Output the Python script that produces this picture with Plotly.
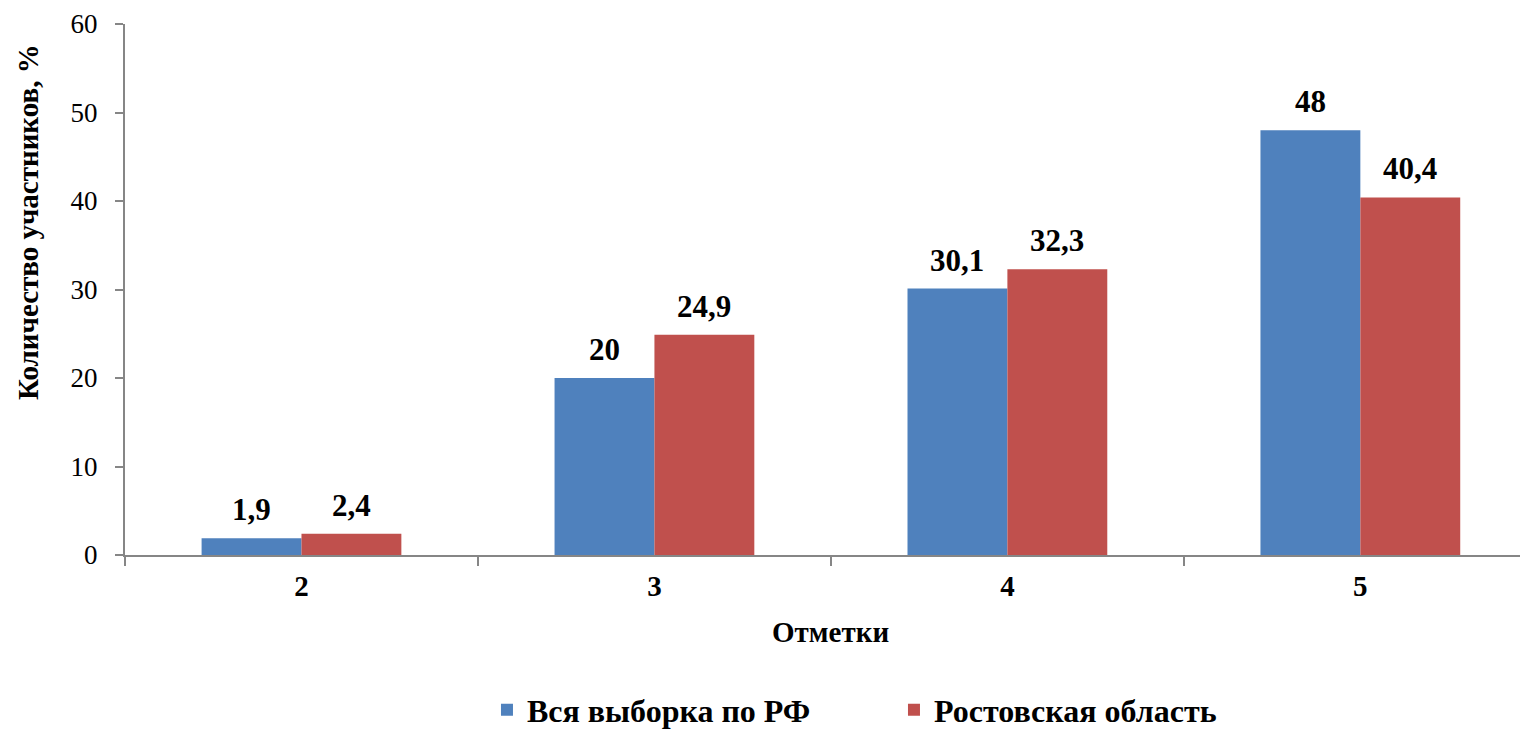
import plotly.graph_objects as go

categories = ["2", "3", "4", "5"]
series_names = ["Вся выборка по РФ", "Ростовская область"]
rf_values = [1.9, 20, 30.1, 48]
rostov_values = [2.4, 24.9, 32.3, 40.4]
y_ticks = [0, 10, 20, 30, 40, 50, 60]
colors = ["#4F81BD", "#C0504D"]

FONT = "'Liberation Serif', 'Times New Roman', serif"
AXIS = "#868686"

def fmt(v):
    return f"{v:g}".replace(".", ",")

fig = go.Figure()
for name, vals, col in zip(series_names, [rf_values, rostov_values], colors):
    fig.add_trace(go.Bar(x=categories, y=vals, name=name, marker=dict(color=col, line=dict(width=0))))

annotations = []
for k, vals in enumerate([rf_values, rostov_values]):
    shift = -50 if k == 0 else 50
    for i, v in enumerate(vals):
        annotations.append(dict(x=i, y=v, xref="x", yref="y", text=fmt(v), showarrow=False,
                                xshift=shift, yshift=9, yanchor="bottom",
                                font=dict(family=FONT, size=31, color="black", weight="bold")))

annotations.append(dict(x=1.5, xref="x", y=-0.145, yref="paper", yanchor="middle",
                        text="Отметки", showarrow=False,
                        font=dict(family=FONT, size=29, color="black", weight="bold")))
annotations.append(dict(x=-0.0691, xref="paper", y=0.627, yref="paper", xanchor="center", yanchor="middle",
                        text="Количество участников, %", textangle=-90, showarrow=False,
                        font=dict(family=FONT, size=29, color="black", weight="bold")))

fig.update_layout(
    template="none",
    width=1520, height=721,
    margin=dict(l=117, r=0, t=16, b=174, autoexpand=False),
    paper_bgcolor="white", plot_bgcolor="white",
    barmode="group", bargap=0.434, bargroupgap=0,
    annotations=annotations,
    showlegend=True,
    legend=dict(orientation="h", x=0.258, xanchor="left", y=-0.292, yanchor="middle",
                font=dict(family=FONT, size=32, color="black", weight="bold"),
                entrywidth=362, itemwidth=30),
    font=dict(family=FONT, color="black"),
)
fig.update_xaxes(type="category", range=[-0.5, 3.475], tickson="boundaries", automargin=False,
                 showline=True, linecolor=AXIS, linewidth=2,
                 ticks="outside", ticklen=9, tickcolor=AXIS, tickwidth=1.5,
                 showgrid=False, zeroline=False, ticklabelstandoff=4,
                 tickfont=dict(family=FONT, size=29, color="black", weight="bold"))
fig.update_yaxes(range=[0, 60], tickvals=y_ticks, showline=True, linecolor=AXIS, linewidth=2,
                 ticks="outside", ticklen=8, tickcolor=AXIS, tickwidth=1.5, automargin=False,
                 showgrid=False, zeroline=False, ticklabelstandoff=12,
                 tickfont=dict(family=FONT, size=27, color="black"))

fig.write_html("out.html")
